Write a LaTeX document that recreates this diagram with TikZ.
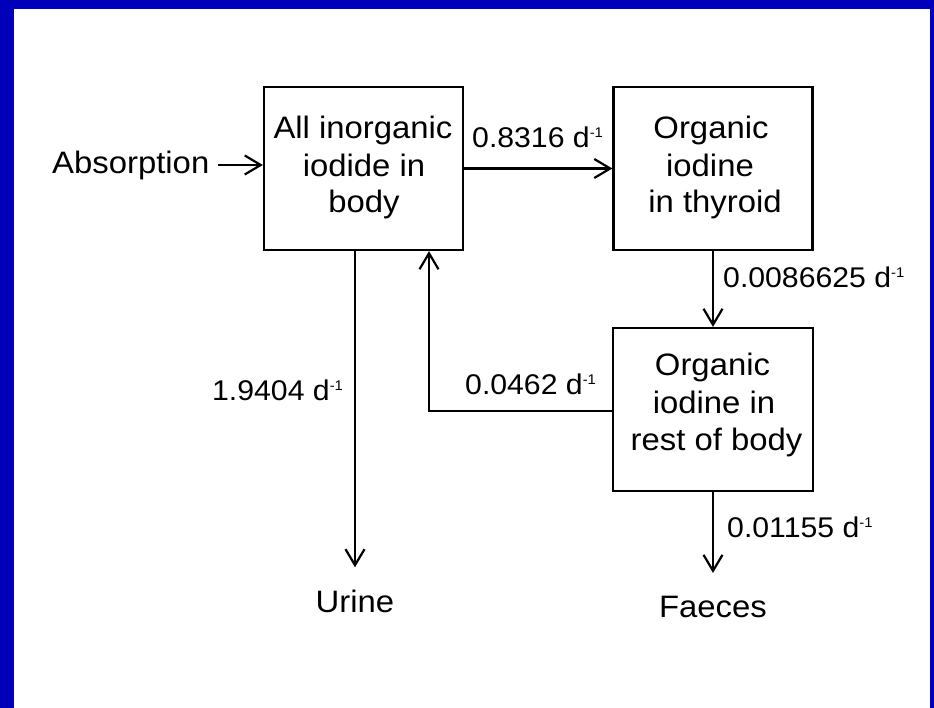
\documentclass[tikz,border=0pt]{standalone}
\usepackage{fontspec}
\setmainfont{Liberation Sans}[FakeStretch=1.06]
\usetikzlibrary{arrows.meta}
\definecolor{frameblue}{RGB}{0,0,187}
\newcommand\perday{d\raisebox{10pt}{\fontsize{14}{14}\selectfont -1}}
\begin{document}
\begin{tikzpicture}[x=1pt,y=-1pt,
  txt/.style={font=\fontsize{31}{37}\selectfont, inner sep=0pt, anchor=base},
  lbl/.style={font=\fontsize{28.5}{34}\selectfont, inner sep=0pt, anchor=base west},
  box/.style={draw, line width=2.2pt, inner sep=0pt, minimum width=199pt, minimum height=163pt},
  arr/.style={line width=2.2pt, -{Straight Barb[length=16pt,width=19pt,line width=2.2pt]}}]
\useasboundingbox (0,0) rectangle (934,708);
\fill[frameblue] (0,0) rectangle (934,708);
\fill[white] (13.5,9) rectangle (930,708);

% boxes
\node[box] (box1) at (363.5,168.5) {};
\node[box] (box2) at (713,168.5) {};
\node[box, minimum width=200pt] (box3) at (713,409.5) {};

% box texts
\node[txt] (t1a) at (363,139) {All inorganic};
\node[txt] (t1b) at (364,177) {iodide in};
\node[txt] (t1c) at (364,213) {body};
\node[txt] (t2a) at (711,139) {Organic};
\node[txt] (t2b) at (710,177) {iodine};
\node[txt] (t2c) at (715,213) {in thyroid};
\node[txt] (t3a) at (712.5,375) {Organic};
\node[txt] (t3b) at (714,413) {iodine in};
\node[txt] (t3c) at (716.5,450) {rest of body};

% outer texts
\node[txt, anchor=base west] (absorb) at (52,174) {Absorption};
\node[txt, inner ysep=22pt] (urine) at (355,612) {Urine};
\node[txt, inner ysep=22.5pt] (faeces) at (713,617) {Faeces};

% rate labels
\node[lbl] (k12) at (472,148) {0.8316 \perday};
\node[lbl] (k23) at (723,288) {0.0086625 \perday};
\node[lbl] (k31) at (465,395) {0.0462 \perday};
\node[lbl] (k1u) at (212,400) {1.9404 \perday};
\node[lbl] (k3f) at (727,537) {0.01155 \perday};

% connectors
\draw[arr] ([xshift=9pt,yshift=1pt]absorb.east) -- ([yshift=1pt]absorb.east -| box1.west);
\draw[arr] (box1) -- (box2);
\draw[arr] (box2) -- (box3);
\draw[arr] ([yshift=-1.5pt]box3.west) -| ([xshift=65.5pt]box1.south);
\draw[arr] (urine.north |- box1.south) -- (urine.north);
\draw[arr] (box3.south) -- (box3.south |- faeces.north);
\end{tikzpicture}
\end{document}
